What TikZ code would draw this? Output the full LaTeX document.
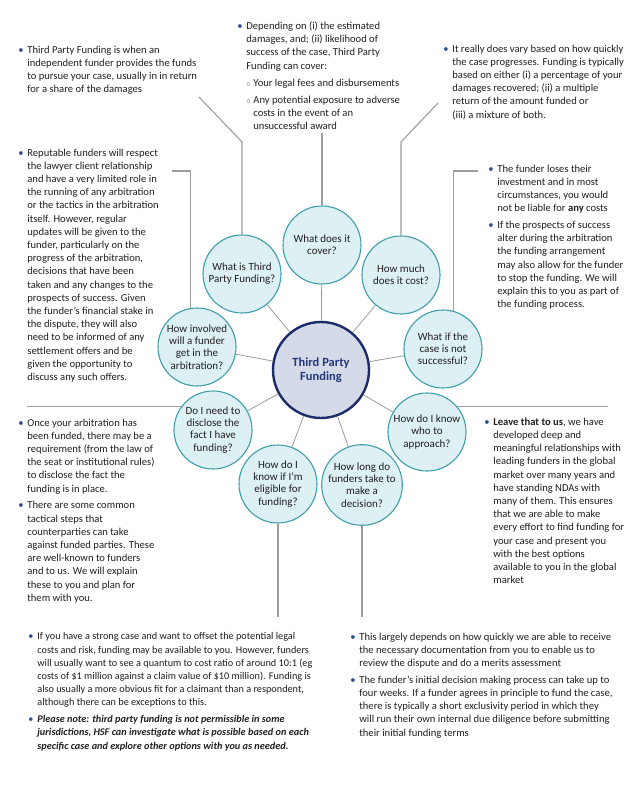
\documentclass[tikz,border=0pt]{standalone}
\usepackage{fontspec}
\setmainfont{Carlito}
\usetikzlibrary{positioning}

\definecolor{textdark}{HTML}{231F20}
\definecolor{bulblue}{HTML}{2D4E96}
\definecolor{linegray}{HTML}{9D9D9D}
\definecolor{tealring}{HTML}{3F9FAB}
\definecolor{tealfill}{HTML}{DDF0F4}
\definecolor{hubring}{HTML}{1C2B69}
\definecolor{hubfill}{HTML}{D4DAE8}
\definecolor{hubtext}{HTML}{25367A}

\newcommand{\notefont}{\fontsize{10.6bp}{13.2bp}\selectfont}
\newcommand{\widefont}{\fontsize{10.25bp}{13.2bp}\selectfont}
\newcommand{\topicfont}{\fontsize{11bp}{12.2bp}\selectfont}
\newcommand{\hubfont}{\fontsize{12.5bp}{13.8bp}\selectfont\bfseries}

\newlength{\pntind}\setlength{\pntind}{9bp}
\newcommand{\bul}{\makebox[\pntind][l]{\textcolor{bulblue}{\textbullet}}}
\newcommand{\cnt}{\hspace*{\pntind}}
\newcommand{\subbul}{\hspace*{\pntind}\makebox[7bp][l]{\textcolor{bulblue}{\fontsize{8bp}{8bp}\selectfont$\circ$}}}
\newcommand{\subcnt}{\hspace*{\dimexpr\pntind+7bp\relax}}

\tikzset{every picture/.style={line width=0.75pt}}
\tikzset{
  spoke/.style={draw=linegray, line width=0.8bp},
  lead/.style={draw=linegray, line width=1.1bp},
  topic/.style={circle, draw=tealring, fill=tealfill, line width=1.1bp, minimum size=78bp, inner sep=0pt, align=center, font=\topicfont, text=textdark},
  hub/.style={circle, draw=hubring, fill=hubfill, line width=2.4bp, minimum size=96bp, inner sep=0pt, align=center, font=\hubfont, text=hubtext},
  notes/.style={anchor=north west, inner sep=0pt, align=left, font=\notefont, text=textdark}
}

\begin{document}
\begin{tikzpicture}[x=1bp,y=1bp,yscale=-1]
\path[use as bounding box, fill=white] (0,0) rectangle (640,791);

%Shape: Circle
\node[hub] (hub) at (321,370) {Third Party\\Funding};
\node[topic] (cov) at (322,245) {What does it\\cover?};
\node[topic] (tpf) at (242,274) {What is Third\\Party Funding?};
\node[topic] (cost) at (401,275) {How much\\does it cost?};
\node[topic] (inv) at (197,347) {How involved\\will a funder\\get in the\\arbitration?};
\node[topic] (wif) at (443,349) {What if the\\case is not\\successful?};
\node[topic] (dis) at (213,430) {Do I need to\\disclose the\\fact I have\\funding?};
\node[topic] (who) at (427,432) {How do I know\\who to\\approach?};
\node[topic] (eli) at (278,484) {How do I\\know if I'm\\eligible for\\funding?};
\node[topic] (dec) at (362,485) {How long do\\funders take to\\make a\\decision?};

%Straight Lines
\foreach \t in {cov,tpf,cost,inv,wif,dis,who,eli,dec}
  \draw[spoke] (hub) -- (\t);

\coordinate (tk) at (199,97);
\coordinate (ck) at (322,133);
\coordinate (mk) at (438,103);
\coordinate (ik) at (172,171);
\coordinate (wk) at (478,171);
\coordinate (dk) at (27,407);
\coordinate (ak) at (608,407);
\coordinate (ek) at (278,617);

\draw[lead] (tk) -- ++(43,45) -- (tpf.north);
\draw[lead] (cov.north) -- (cov.north |- ck);
\draw[lead] (mk) -- ++(-37,39) -- (cost.north);
\draw[lead] (ik) -- (ik -| inv.100) -- (inv.100);
\draw[lead] (wk) -- (wk -| wif.75) -- (wif.75);
\draw[lead] (dis.144) -- (dis.144 -| dk);
\draw[lead] (who.40) -- (who.40 -| ak);
\draw[lead] (eli.south) -- (eli.south |- ek);
\draw[lead] (dec.south) -- (dec.south |- ek);

% Text Node
\node[notes] (n1) at (18,45.4) {\bul Third Party Funding is when an\\
\cnt independent funder provides the funds\\
\cnt to pursue your case, usually in in return\\
\cnt for a share of the damages};
% Text Node
\node[notes] (n2) at (237,21.4) {\bul Depending on (i) the estimated\\
\cnt damages, and; (ii) likelihood of\\
\cnt success of the case, Third Party\\
\cnt Funding can cover:\\[3.8bp]
\subbul Your legal fees and disbursements\\[3.8bp]
\subbul Any potential exposure to adverse\\
\subcnt costs in the event of an\\
\subcnt unsuccessful award};
% Text Node
\node[notes] (n3) at (443,44.4) {\bul It really does vary based on how quickly\\
\cnt the case progresses. Funding is typically\\
\cnt based on either (i) a percentage of your\\
\cnt damages recovered; (ii) a multiple\\
\cnt return of the amount funded or\\
\cnt (iii) a mixture of both.};
% Text Node
\node[notes] (n4) at (18,148.4) {\bul Reputable funders will respect\\
\cnt the lawyer client relationship\\
\cnt and have a very limited role in\\
\cnt the running of any arbitration\\
\cnt or the tactics in the arbitration\\
\cnt itself. However, regular\\
\cnt updates will be given to the\\
\cnt funder, particularly on the\\
\cnt progress of the arbitration,\\
\cnt decisions that have been\\
\cnt taken and any changes to the\\
\cnt prospects of success. Given\\
\cnt the funder's financial stake in\\
\cnt the dispute, they will also\\
\cnt need to be informed of any\\
\cnt settlement offers and be\\
\cnt given the opportunity to\\
\cnt discuss any such offers.};
% Text Node
\node[notes] (n5) at (488,164.4) {\bul The funder loses their\\
\cnt investment and in most\\
\cnt circumstances, you would\\
\cnt not be liable for \textbf{any} costs\\[3.5bp]
\bul If the prospects of success\\
\cnt alter during the arbitration\\
\cnt the funding arrangement\\
\cnt may also allow for the funder\\
\cnt to stop the funding. We will\\
\cnt explain this to you as part of\\
\cnt the funding process.};
% Text Node
\node[notes] (n6) at (18,418.4) {\bul Once your arbitration has\\
\cnt been funded, there may be a\\
\cnt requirement (from the law of\\
\cnt the seat or institutional rules)\\
\cnt to disclose the fact the\\
\cnt funding is in place.\\[3.5bp]
\bul There are some common\\
\cnt tactical steps that\\
\cnt counterparties can take\\
\cnt against funded parties. These\\
\cnt are well-known to funders\\
\cnt and to us. We will explain\\
\cnt these to you and plan for\\
\cnt them with you.};
% Text Node
\node[notes] (n7) at (484,417.4) {\bul \textbf{Leave that to us}, we have\\
\cnt developed deep and\\
\cnt meaningful relationships with\\
\cnt leading funders in the global\\
\cnt market over many years and\\
\cnt have standing NDAs with\\
\cnt many of them. This ensures\\
\cnt that we are able to make\\
\cnt every effort to find funding for\\
\cnt your case and present you\\
\cnt with the best options\\
\cnt available to you in the global\\
\cnt market};
% Text Node
\node[notes, font=\widefont] (n8) at (28,632.4) {\bul If you have a strong case and want to offset the potential legal\\
\cnt costs and risk, funding may be available to you. However, funders\\
\cnt will usually want to see a quantum to cost ratio of around 10:1 (eg\\
\cnt costs of \$1 million against a claim value of \$10 million). Funding is\\
\cnt also usually a more obvious fit for a claimant than a respondent,\\
\cnt although there can be exceptions to this.\\[3.5bp]
\bul \textbf{\textit{Please note: third party funding is not permissible in some}}\\
\cnt \textbf{\textit{jurisdictions, HSF can investigate what is possible based on each}}\\
\cnt \textbf{\textit{specific case and explore other options with you as needed.}}};
% Text Node
\node[notes] (n9) at (350,632.4) {\bul This largely depends on how quickly we are able to receive\\
\cnt the necessary documentation from you to enable us to\\
\cnt review the dispute and do a merits assessment\\[3.5bp]
\bul The funder's initial decision making process can take up to\\
\cnt four weeks. If a funder agrees in principle to fund the case,\\
\cnt there is typically a short exclusivity period in which they\\
\cnt will run their own internal due diligence before submitting\\
\cnt their initial funding terms};

\end{tikzpicture}
\end{document}
